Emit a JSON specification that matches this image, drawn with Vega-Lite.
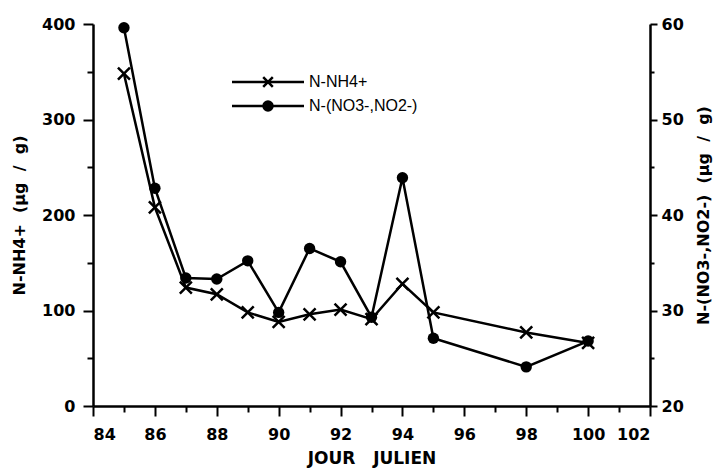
{
  "$schema": "https://vega.github.io/schema/vega-lite/v6.json",
  "width": 557,
  "height": 382,
  "autosize": {"type": "none"},
  "padding": {"left": 93, "top": 24, "right": 74, "bottom": 65},
  "background": "white",
  "config": {
    "view": {"stroke": null},
    "axis": {
      "grid": false,
      "domainColor": "black",
      "domainWidth": 2.5,
      "tickColor": "black",
      "tickWidth": 2,
      "tickSize": 10,
      "labelFont": "DejaVu Sans",
      "labelFontWeight": "bold",
      "labelFontSize": 16,
      "labelColor": "black",
      "titleFont": "DejaVu Sans",
      "titleFontWeight": "bold",
      "titleFontSize": 16,
      "titleColor": "black"
    }
  },
  "data": {
    "values": [
      {"day": 85, "nh4": 348, "no3": 59.6},
      {"day": 86, "nh4": 208, "no3": 42.8},
      {"day": 87, "nh4": 124, "no3": 33.4},
      {"day": 88, "nh4": 117, "no3": 33.3},
      {"day": 89, "nh4": 98, "no3": 35.2},
      {"day": 90, "nh4": 88, "no3": 29.8},
      {"day": 91, "nh4": 96, "no3": 36.5},
      {"day": 92, "nh4": 101, "no3": 35.1},
      {"day": 93, "nh4": 91, "no3": 29.3},
      {"day": 94, "nh4": 128, "no3": 43.9},
      {"day": 95, "nh4": 98, "no3": 27.1},
      {"day": 98, "nh4": 77, "no3": 24.1},
      {"day": 100, "nh4": 66, "no3": 26.8}
    ]
  },
  "encoding": {
    "x": {
      "field": "day",
      "type": "quantitative",
      "scale": {"domain": [84, 102], "nice": false, "zero": false},
      "axis": {
        "values": [84, 85, 86, 87, 88, 89, 90, 91, 92, 93, 94, 95, 96, 97, 98, 99, 100, 101, 102],
        "labelExpr": "datum.value % 2 === 0 ? datum.label : ''",
        "tickSize": {"condition": {"test": "datum.value % 2 === 0", "value": 10}, "value": 6},
        "labelPadding": 10,
        "title": "JOUR\u00a0\u00a0\u00a0JULIEN",
        "titleFontSize": 17,
        "titlePadding": 8
      }
    }
  },
  "layer": [
    {
      "encoding": {
        "y": {
          "field": "nh4",
          "type": "quantitative",
          "scale": {"domain": [0, 400], "nice": false},
          "axis": {
            "orient": "left",
            "values": [0, 50, 100, 150, 200, 250, 300, 350, 400],
            "labelExpr": "datum.value % 100 === 0 ? datum.label : ''",
            "tickSize": {"condition": {"test": "datum.value % 100 === 0", "value": 10}, "value": 6},
            "labelPadding": 8,
            "title": "N-NH4+\u00a0\u00a0(µg\u00a0\u00a0/\u00a0\u00a0g)",
            "titlePadding": 14
          }
        }
      },
      "layer": [
        {
          "mark": {"type": "line", "strokeWidth": 2.5},
          "encoding": {
            "color": {
              "datum": "N-NH4+",
              "type": "nominal",
              "scale": {"domain": ["N-NH4+", "N-(NO3-,NO2-)"], "range": ["black", "black"]},
              "legend": {
                "orient": "none",
                "legendX": 167,
                "legendY": 50,
                "title": null,
                "padding": 0,
                "symbolType": "M-6,0H6",
                "symbolSize": 144,
                "symbolStrokeWidth": 2.5,
                "symbolStrokeColor": "black",
                "labelFont": "Liberation Sans",
                "labelFontSize": 16,
                "labelColor": "black",
                "labelOffset": 33,
                "rowPadding": 4,
                "encode": {
                  "symbols": {
                    "update": {
                      "shape": {"signal": "datum.value === 'N-NH4+' ? 'M-6,0H6M-0.8,-0.8L0.8,0.8M-0.8,0.8L0.8,-0.8' : 'M-6,0H6M0.75,0A0.75,0.75 0 1 1 -0.75,0A0.75,0.75 0 1 1 0.75,0Z'"},
                      "fill": {"value": "black"},
                      "stroke": {"value": "black"}
                    }
                  }
                }
              }
            }
          }
        },
        {
          "mark": {"type": "point", "shape": "M-1,-1L1,1M-1,1L1,-1", "size": 144, "strokeWidth": 2.5, "color": "black", "filled": false, "opacity": 1}
        }
      ]
    },
    {
      "encoding": {
        "y": {
          "field": "no3",
          "type": "quantitative",
          "scale": {"domain": [20, 60], "nice": false, "zero": false},
          "axis": {
            "orient": "right",
            "values": [20, 25, 30, 35, 40, 45, 50, 55, 60],
            "labelExpr": "datum.value % 10 === 0 ? datum.label : ''",
            "tickSize": {"condition": {"test": "datum.value % 10 === 0", "value": 7}, "value": 4},
            "labelPadding": 4,
            "title": "N-(NO3-,NO2-)\u00a0\u00a0(µg\u00a0\u00a0/\u00a0\u00a0g)",
            "titleAngle": 270,
            "titlePadding": 28
          }
        }
      },
      "layer": [
        {
          "mark": {"type": "line", "strokeWidth": 2.5},
          "encoding": {
            "color": {"datum": "N-(NO3-,NO2-)", "type": "nominal"}
          }
        },
        {
          "mark": {"type": "point", "shape": "circle", "size": 130, "color": "black", "filled": true, "opacity": 1}
        }
      ]
    }
  ],
  "resolve": {"scale": {"y": "independent"}}
}
